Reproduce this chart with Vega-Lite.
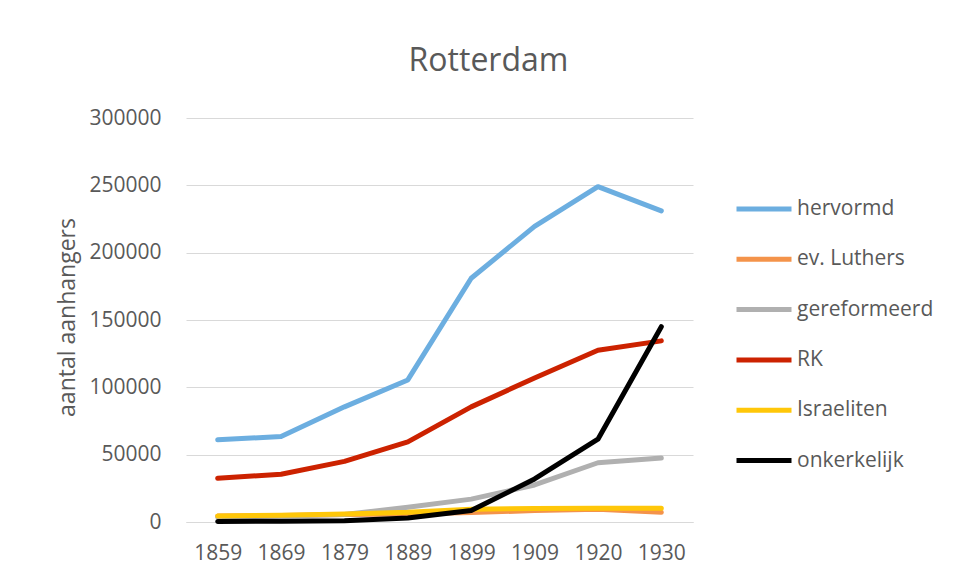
{
  "$schema": "https://vega.github.io/schema/vega-lite/v6.json",
  "autosize": {"type": "none"},
  "width": 507,
  "height": 404,
  "padding": {"left": 186, "top": 118, "right": 264, "bottom": 57},
  "background": "white",
  "title": {
    "text": "Rotterdam",
    "font": "Open Sans",
    "fontSize": 32,
    "fontWeight": "normal",
    "color": "#595959",
    "anchor": "middle",
    "frame": "group",
    "baseline": "alphabetic",
    "offset": 47,
    "dx": 49,
    "dy": 43
  },
  "config": {
    "view": {"stroke": null},
    "font": "Open Sans"
  },
  "data": {
    "values": [
      {"year": "1859", "group": "hervormd", "value": 61000},
      {"year": "1869", "group": "hervormd", "value": 63500},
      {"year": "1879", "group": "hervormd", "value": 85500},
      {"year": "1889", "group": "hervormd", "value": 105500},
      {"year": "1899", "group": "hervormd", "value": 181000},
      {"year": "1909", "group": "hervormd", "value": 219500},
      {"year": "1920", "group": "hervormd", "value": 249000},
      {"year": "1930", "group": "hervormd", "value": 231000},
      {"year": "1859", "group": "ev. Luthers", "value": 4500},
      {"year": "1869", "group": "ev. Luthers", "value": 4800},
      {"year": "1879", "group": "ev. Luthers", "value": 5500},
      {"year": "1889", "group": "ev. Luthers", "value": 6000},
      {"year": "1899", "group": "ev. Luthers", "value": 7000},
      {"year": "1909", "group": "ev. Luthers", "value": 8500},
      {"year": "1920", "group": "ev. Luthers", "value": 9500},
      {"year": "1930", "group": "ev. Luthers", "value": 7200},
      {"year": "1859", "group": "gereformeerd", "value": 3500},
      {"year": "1869", "group": "gereformeerd", "value": 4500},
      {"year": "1879", "group": "gereformeerd", "value": 5500},
      {"year": "1889", "group": "gereformeerd", "value": 11000},
      {"year": "1899", "group": "gereformeerd", "value": 17000},
      {"year": "1909", "group": "gereformeerd", "value": 27500},
      {"year": "1920", "group": "gereformeerd", "value": 44000},
      {"year": "1930", "group": "gereformeerd", "value": 47500},
      {"year": "1859", "group": "RK", "value": 32500},
      {"year": "1869", "group": "RK", "value": 35500},
      {"year": "1879", "group": "RK", "value": 45000},
      {"year": "1889", "group": "RK", "value": 59500},
      {"year": "1899", "group": "RK", "value": 85500},
      {"year": "1909", "group": "RK", "value": 107000},
      {"year": "1920", "group": "RK", "value": 127500},
      {"year": "1930", "group": "RK", "value": 134500},
      {"year": "1859", "group": "Israeliten", "value": 4500},
      {"year": "1869", "group": "Israeliten", "value": 5000},
      {"year": "1879", "group": "Israeliten", "value": 6000},
      {"year": "1889", "group": "Israeliten", "value": 7200},
      {"year": "1899", "group": "Israeliten", "value": 9500},
      {"year": "1909", "group": "Israeliten", "value": 10000},
      {"year": "1920", "group": "Israeliten", "value": 10300},
      {"year": "1930", "group": "Israeliten", "value": 10300},
      {"year": "1859", "group": "onkerkelijk", "value": 300},
      {"year": "1869", "group": "onkerkelijk", "value": 600},
      {"year": "1879", "group": "onkerkelijk", "value": 1000},
      {"year": "1889", "group": "onkerkelijk", "value": 3000},
      {"year": "1899", "group": "onkerkelijk", "value": 8500},
      {"year": "1909", "group": "onkerkelijk", "value": 32000},
      {"year": "1920", "group": "onkerkelijk", "value": 61500},
      {"year": "1930", "group": "onkerkelijk", "value": 145000}
    ]
  },
  "mark": {"type": "line", "strokeWidth": 5, "strokeCap": "round", "strokeJoin": "round"},
  "encoding": {
    "x": {
      "field": "year",
      "type": "ordinal",
      "scale": {"type": "point", "padding": 0.5},
      "axis": {
        "title": null,
        "labelAngle": 0,
        "labelFont": "Open Sans",
        "labelFontSize": 21,
        "labelColor": "#595959",
        "ticks": false,
        "domain": true,
        "domainColor": "#D9D9D9",
        "labelPadding": 20,
        "grid": false
      }
    },
    "y": {
      "field": "value",
      "type": "quantitative",
      "scale": {"domain": [0, 300000], "nice": false},
      "axis": {
        "title": "aantal aanhangers",
        "titleFont": "Open Sans",
        "titleFontSize": 23,
        "titleFontWeight": "normal",
        "titleColor": "#595959",
        "titleX": -119,
        "titleY": 199,
        "titleAngle": -90,
        "titleBaseline": "middle",
        "titleAlign": "center",
        "values": [0, 50000, 100000, 150000, 200000, 250000, 300000],
        "format": "d",
        "labelFont": "Open Sans",
        "labelFontSize": 21,
        "labelColor": "#595959",
        "labelPadding": 25,
        "ticks": false,
        "domain": false,
        "grid": true,
        "gridColor": "#D9D9D9",
        "gridWidth": 1
      }
    },
    "color": {
      "field": "group",
      "type": "nominal",
      "scale": {
        "domain": ["hervormd", "ev. Luthers", "gereformeerd", "RK", "Israeliten", "onkerkelijk"],
        "range": ["#6CAEE0", "#F4934A", "#B0B0B0", "#CC2200", "#FFC709", "#000000"]
      },
      "legend": {
        "title": null,
        "orient": "none",
        "legendX": 548,
        "legendY": 66,
        "symbolType": "stroke",
        "symbolSize": 3025,
        "symbolStrokeWidth": 5,
        "clipHeight": 50,
        "rowPadding": 0.3,
        "labelOffset": 3,
        "labelFont": "Open Sans",
        "labelFontSize": 21,
        "labelColor": "#595959",
        "labelLimit": 300
      }
    }
  }
}
